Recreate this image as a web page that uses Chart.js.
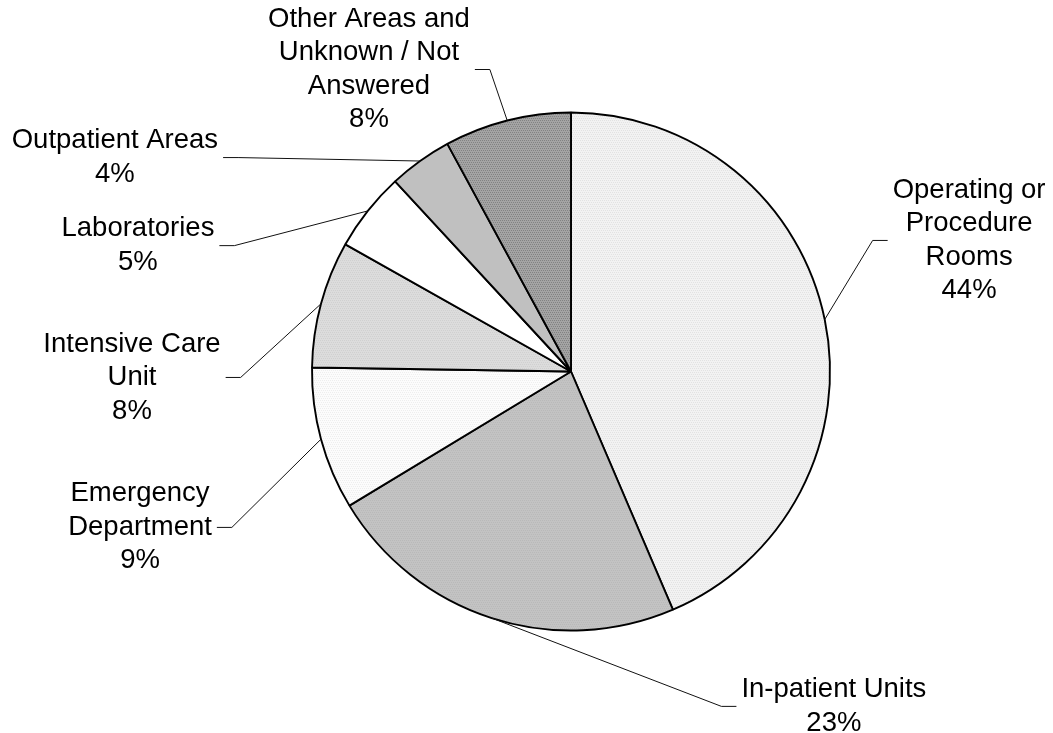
<!DOCTYPE html>
<html>
<head>
<meta charset="utf-8">
<title>Location of incidents</title>
<script src="https://cdn.jsdelivr.net/npm/chart.js@4.4.1/dist/chart.umd.min.js"></script>
<style>
  html, body { margin: 0; padding: 0; background: #fff; }
  #wrap { width: 1053px; height: 733px; position: relative; }
</style>
</head>
<body>
<div id="wrap"><canvas id="locationPie"></canvas></div>
<script>
// Share of reports by location (percent)
const categories = [
    'Operating or Procedure Rooms',
    'In-patient Units',
    'Emergency Department',
    'Intensive Care Unit',
    'Laboratories',
    'Outpatient Areas',
    'Other Areas and Unknown / Not Answered'
];
const shares = [44, 23, 9, 8, 5, 4, 8];

// How each category name is broken over lines in its callout
const labelLines = [
    ['Operating or', 'Procedure', 'Rooms'],
    ['In-patient Units'],
    ['Emergency', 'Department'],
    ['Intensive Care', 'Unit'],
    ['Laboratories'],
    ['Outpatient Areas'],
    ['Other Areas and', 'Unknown / Not', 'Answered']
];

// Callout placement, in multiples of the pie radius from its centre
const labelSpots = [
    { dx: 1.537, dy: -0.506, side: 'left' },
    { dx: 1.015, dy: 1.293, side: 'left' },
    { dx: -1.664, dy: 0.602, side: 'right' },
    { dx: -1.695, dy: 0.023, side: 'right' },
    { dx: -1.672, dy: -0.486, side: 'right' },
    { dx: -1.761, dy: -0.826, side: 'right' },
    { dx: -0.780, dy: -1.166, side: 'right' }
];

// small dotted fills, like the print-style shading
function dotted(base, dot) {
    const c = document.createElement('canvas');
    c.width = 4; c.height = 4;
    const g = c.getContext('2d');
    g.fillStyle = base;
    g.fillRect(0, 0, 4, 4);
    g.fillStyle = dot;
    g.fillRect(0, 0, 1, 1);
    g.fillRect(2, 0, 1, 1);
    g.fillRect(1, 2, 1, 1);
    g.fillRect(3, 2, 1, 1);
    return g.createPattern(c, 'repeat');
}

const fills = [
    dotted('#f2f2f2', '#e2e2e2'),
    dotted('#c3c3c3', '#b9b9b9'),
    dotted('#fcfcfc', '#eeeeee'),
    dotted('#dcdcdc', '#d0d0d0'),
    '#ffffff',
    '#c0c0c0',
    dotted('#a4a4a4', '#828282')
];

const calloutPlugin = {
    id: 'callouts',
    afterDatasetsDraw(chart) {
        const ctx = chart.ctx;
        const arcs = chart.getDatasetMeta(0).data;
        const fontSize = 27.5;
        const lineH = 33.5;
        ctx.save();
        ctx.font = fontSize + 'px "Liberation Sans", Arial, sans-serif';
        ctx.textAlign = 'center';
        ctx.textBaseline = 'middle';
        arcs.forEach((arc, i) => {
            const p = arc.getProps(['x', 'y', 'startAngle', 'endAngle', 'outerRadius'], true);
            const R = p.outerRadius;
            const mid = (p.startAngle + p.endAngle) / 2;
            const rimX = p.x + Math.cos(mid) * R;
            const rimY = p.y + Math.sin(mid) * R;

            const lines = labelLines[i].concat([shares[i] + '%']);
            const cx = p.x + labelSpots[i].dx * R;
            const cy = p.y + labelSpots[i].dy * R;
            const widest = Math.max(...lines.map(t => ctx.measureText(t).width));

            // leader: short horizontal stub off the text, then a straight run to the rim
            const dir = labelSpots[i].side === 'left' ? -1 : 1;
            const ax = cx + dir * (widest / 2 + 5);
            const bx = ax + dir * 15;
            ctx.strokeStyle = '#111';
            ctx.lineWidth = 1;
            ctx.beginPath();
            ctx.moveTo(ax, cy);
            ctx.lineTo(bx, cy);
            ctx.lineTo(rimX, rimY);
            ctx.stroke();

            ctx.fillStyle = '#000';
            lines.forEach((t, k) => {
                ctx.fillText(t, cx, cy + (k - (lines.length - 1) / 2) * lineH);
            });
        });
        ctx.restore();
    }
};

document.addEventListener('DOMContentLoaded', function() {
    const pieCtx = document.getElementById('locationPie').getContext('2d');
    new Chart(pieCtx, {
        type: 'pie',
        data: {
            labels: categories,
            datasets: [{
                data: shares,
                backgroundColor: fills,
                borderColor: '#000',
                borderWidth: 1.9
            }]
        },
        options: {
            responsive: true,
            maintainAspectRatio: false,
            animation: false,
            radius: 259,
            layout: { padding: { top: 112, bottom: 102, left: 89, right: 0 } },
            plugins: {
                legend: { display: false },
                tooltip: { enabled: false }
            }
        },
        plugins: [calloutPlugin]
    });
});
</script>
</body>
</html>
